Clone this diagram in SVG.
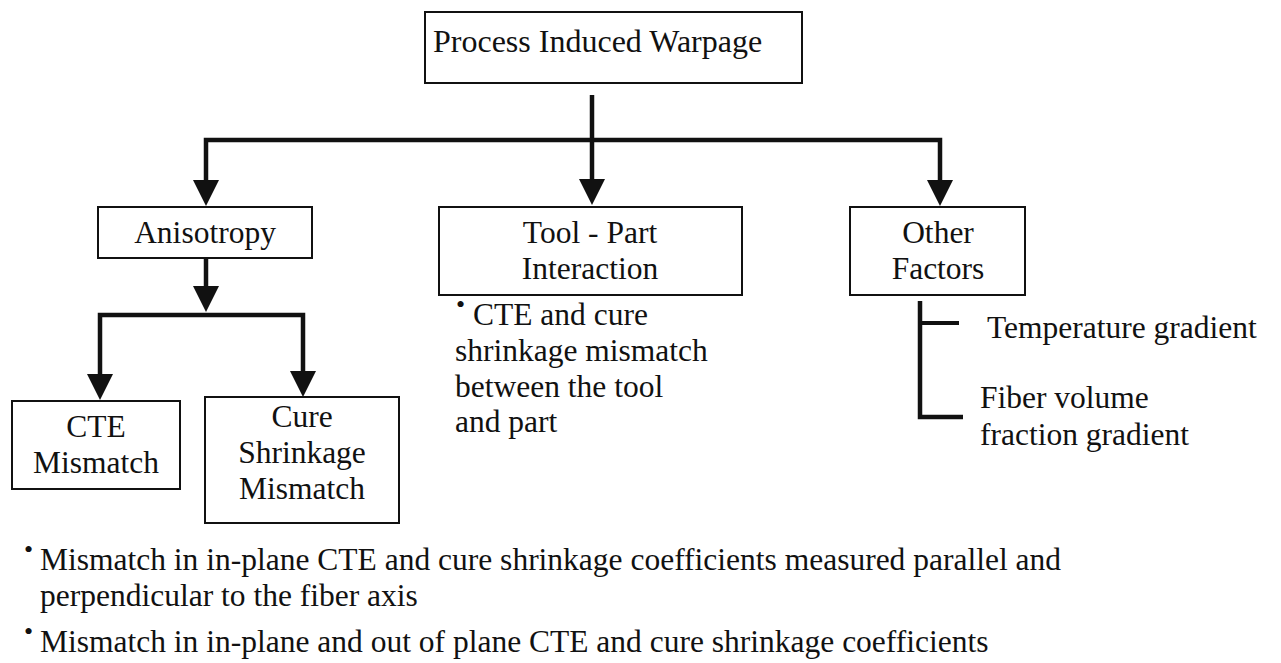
<svg xmlns="http://www.w3.org/2000/svg" width="1281" height="663" viewBox="0 0 1281 663">
<style>
.box{fill:#fff;stroke:#111;stroke-width:2}
.t{font-family:'Liberation Serif','Times New Roman','DejaVu Serif',serif;font-size:31.5px;fill:#111}
.c{text-anchor:middle}
.b{font-family:'Liberation Serif','Times New Roman','DejaVu Serif',serif;font-size:26px;fill:#111}
.ln{stroke:#111;stroke-width:4.5;fill:none;stroke-linejoin:miter;stroke-linecap:butt}
</style>
<defs>
<marker id="ah" markerUnits="userSpaceOnUse" markerWidth="26" markerHeight="26" viewBox="0 0 26 26" refX="0" refY="13" orient="auto-start-reverse">
<path d="M0,0 L26,13 L0,26 Z" fill="#111"/>
</marker>
</defs>
<rect width="1281" height="663" fill="#fff"/>
<g id="connectors">
<path class="ln" d="M592,95 V179" marker-end="url(#ah)"/>
<path class="ln" d="M206,180 V140 H940 V180" marker-start="url(#ah)" marker-end="url(#ah)"/>
<path class="ln" d="M206,258 V286" marker-end="url(#ah)"/>
<path class="ln" d="M100,374 V315 H303 V371" marker-start="url(#ah)" marker-end="url(#ah)"/>
<path class="ln" d="M920,301 V417 H963"/>
<path class="ln" d="M920,323 H959" style="stroke-width:4"/>
</g>
<g id="n-warpage">
<rect class="box" x="425" y="12" width="377" height="71"/>
<text class="t" x="433" y="52" style="font-size:32px">Process Induced Warpage</text>
</g>
<g id="n-anisotropy">
<rect class="box" x="98" y="207" width="214" height="51"/>
<text class="t c" x="205" y="243">Anisotropy</text>
</g>
<g id="n-toolpart">
<rect class="box" x="439" y="207" width="303" height="88"/>
<text class="t c" x="590" y="243">Tool - Part</text>
<text class="t c" x="590" y="279">Interaction</text>
</g>
<g id="n-toolpart-note">
<text class="b" x="456" y="313">•</text>
<text class="t" x="473" y="325">CTE and cure</text>
<text class="t" x="455" y="361">shrinkage mismatch</text>
<text class="t" x="455" y="397">between the tool</text>
<text class="t" x="455" y="432">and part</text>
</g>
<g id="n-other">
<rect class="box" x="850" y="207" width="175" height="88"/>
<text class="t c" x="938" y="243">Other</text>
<text class="t c" x="938" y="279">Factors</text>
</g>
<g id="n-temp">
<text class="t" x="987" y="338">Temperature gradient</text>
</g>
<g id="n-fiber">
<text class="t" x="980" y="408">Fiber volume</text>
<text class="t" x="980" y="445">fraction gradient</text>
</g>
<g id="n-cte">
<rect class="box" x="12" y="401" width="168" height="88"/>
<text class="t c" x="96" y="437">CTE</text>
<text class="t c" x="96" y="473">Mismatch</text>
</g>
<g id="n-cure">
<rect class="box" x="205" y="397" width="194" height="126"/>
<text class="t c" x="302" y="427">Cure</text>
<text class="t c" x="302" y="463">Shrinkage</text>
<text class="t c" x="302" y="499">Mismatch</text>
</g>
<g id="n-notes">
<text class="b" x="24" y="558">•</text>
<text class="t" x="40" y="570">Mismatch in in-plane CTE and cure shrinkage coefficients measured parallel and</text>
<text class="t" x="40" y="606">perpendicular to the fiber axis</text>
<text class="b" x="24" y="640">•</text>
<text class="t" x="40" y="652">Mismatch in in-plane and out of plane CTE and cure shrinkage coefficients</text>
</g>
</svg>
